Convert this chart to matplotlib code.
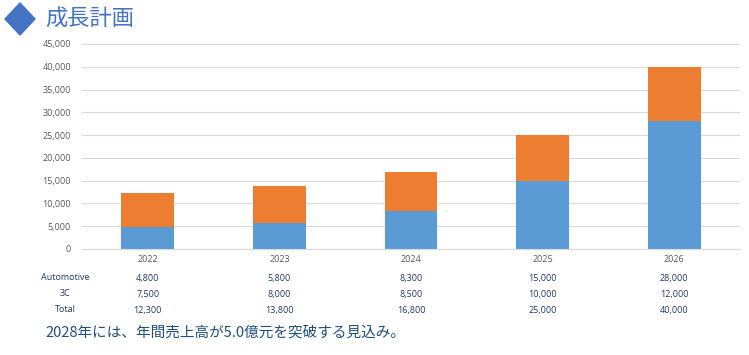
import numpy as np
import matplotlib.pyplot as plt
from matplotlib.patches import Polygon

plt.rcParams['font.family'] = ['Open Sans', 'Noto Sans CJK JP', 'DejaVu Sans']

# data
years = ["2022", "2023", "2024", "2025", "2026"]
automotive = [4800, 5800, 8300, 15000, 28000]
c3 = [7500, 8000, 8500, 10000, 12000]
total = [12300, 13800, 16800, 25000, 40000]
row_labels = ["Automotive", "3C", "Total"]
title = "成長計画"
note = "2028年には、年間売上高が5.0億元を突破する見込み。"

blue = "#5B9BD5"
orange = "#ED7D31"

W, H = 749, 355
L, R = 82, 740
fig = plt.figure(figsize=(W / 100, H / 100), dpi=100)
ax = fig.add_axes([L / W, 1 - 249 / H, (R - L) / W, (249 - 44) / H])

x = np.arange(len(years))
ax.bar(x, automotive, width=0.4, color=blue, zorder=2)
ax.bar(x, c3, width=0.4, bottom=automotive, color=orange, zorder=2)

ax.set_xlim(-0.5, len(years) - 0.5)
ax.set_ylim(0, 45000)
ax.set_yticks(np.arange(0, 45001, 5000))
ax.set_yticklabels([f"{v:,}" for v in np.arange(0, 45001, 5000)], fontsize=6.5, color="#595959")
ax.set_xticks([])
ax.grid(axis="y", color="#D9D9D9", linewidth=0.8, zorder=0)
ax.tick_params(axis="y", length=0, pad=8)
for s in ["top", "right", "left"]:
    ax.spines[s].set_visible(False)
ax.spines["bottom"].set_color("#D9D9D9")

# table below the axis
trans = ax.get_xaxis_transform()
for i, yr in enumerate(years):
    ax.text(i, -0.05, yr, transform=trans, ha="center", va="center", fontsize=6.5, color="#595959")
rows_y = [278, 294, 310]
for lbl, vals, py in zip(row_labels, [automotive, c3, total], rows_y):
    fig.text(65 / W, 1 - py / H, lbl, ha="center", va="center", fontsize=6.5, color="#1F3864")
    for i, v in enumerate(vals):
        fx = (L + (i + 0.5) * (R - L) / 5) / W
        fig.text(fx, 1 - py / H, f"{v:,}", ha="center", va="center", fontsize=6.5, color="#1F3864")

# title with diamond
cx, cy, hw, hh = 20, 19, 15, 16
diamond = [((cx - hw) / W, 1 - cy / H), (cx / W, 1 - (cy - hh) / H),
           ((cx + hw) / W, 1 - cy / H), (cx / W, 1 - (cy + hh) / H)]
fig.patches.append(Polygon(diamond, closed=True, transform=fig.transFigure, color="#4472C4"))
fig.text(45 / W, 1 - 19 / H, title, ha="left", va="center", fontsize=16,
         color="#4472C4", family=["Noto Sans CJK JP", "DejaVu Sans"])

fig.text(45 / W, 1 - 333 / H, note, ha="left", va="center", fontsize=10.5,
         color="#1F4E79", family=["Noto Sans CJK JP", "DejaVu Sans"])

fig.savefig("out.png", dpi=100)
